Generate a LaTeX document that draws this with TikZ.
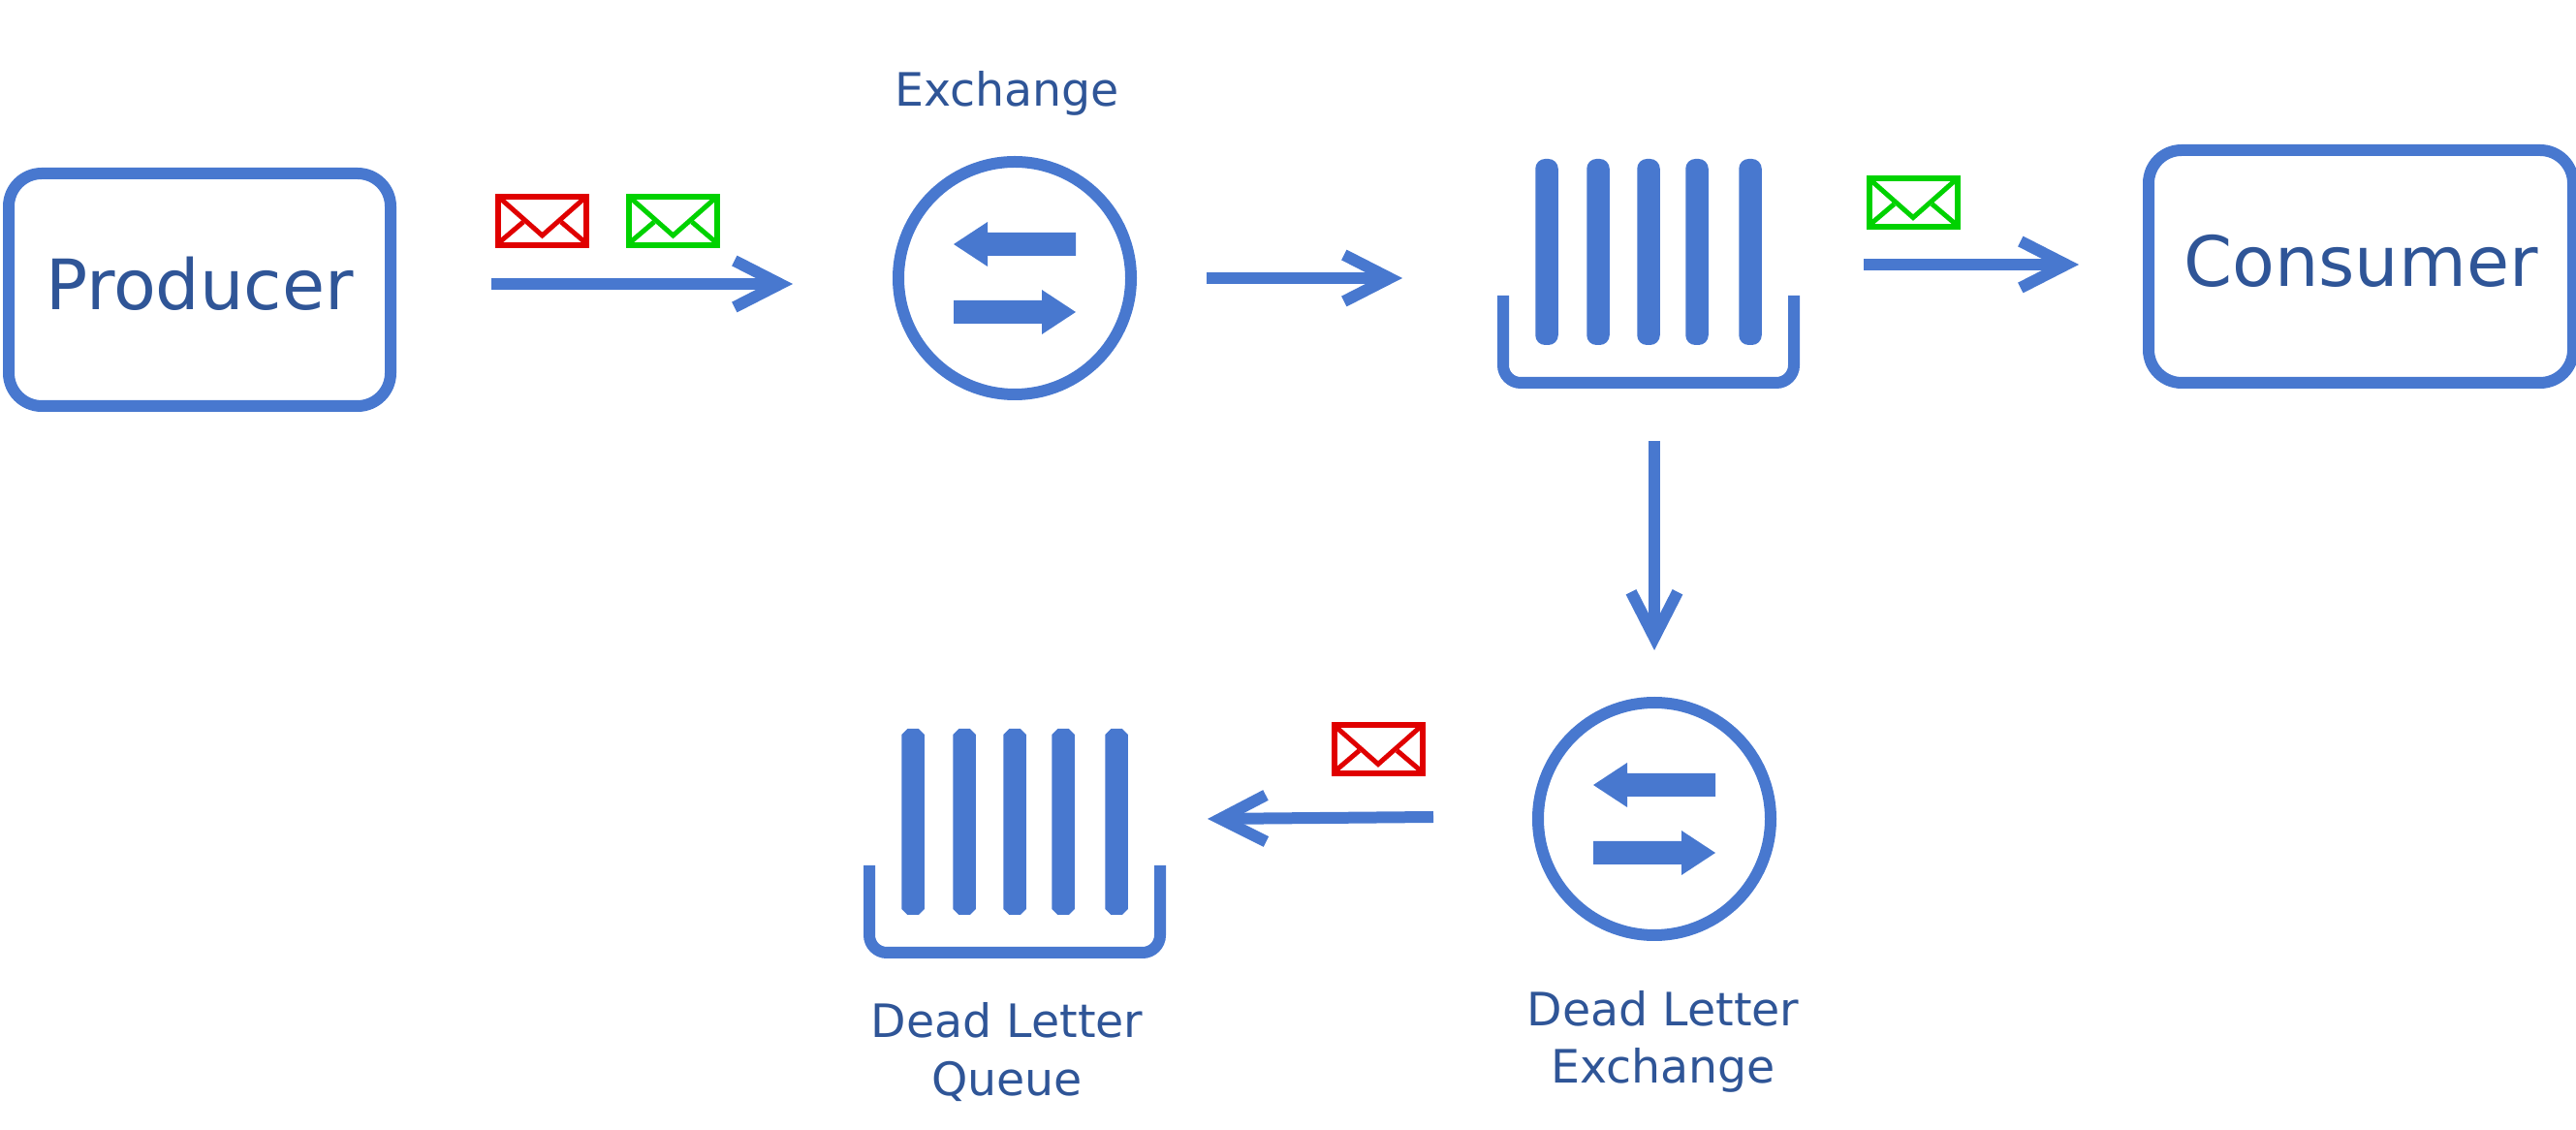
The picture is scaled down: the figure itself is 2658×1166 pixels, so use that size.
\documentclass[tikz,border=0pt]{standalone}
\usepackage{fontspec}
\setmainfont{DejaVu Sans}
\usetikzlibrary{arrows.meta}
\definecolor{iconblue}{HTML}{4878CF}
\definecolor{textblue}{HTML}{2F5597}
\definecolor{mailred}{HTML}{E00000}
\definecolor{mailgreen}{HTML}{00D200}
\newcommand{\softbar}[1]{\fill[iconblue, rounded corners=1mm] (#1-11.75,-141) rectangle (#1+11.75,51);}
\newcommand{\cutbar}[1]{\fill[iconblue] (#1-5.75,-141) -- (#1+5.75,-141) -- (#1+11.75,-135) -- (#1+11.75,45) -- (#1+5.75,51) -- (#1-5.75,51) -- (#1-11.75,45) -- (#1-11.75,-135) -- cycle;}
\tikzset{
  party/.style={draw=iconblue, line width=1.2mm, rounded corners=3.4mm, inner sep=0pt, minimum height=24mm, text=textblue, text height=6mm, text depth=1.8mm, font=\fontsize{20.4pt}{24pt}\selectfont},
  caption/.style={text=textblue, align=center, anchor=base, inner sep=0pt, font=\fontsize{13.5pt}{17pt}\selectfont},
  exchring/.style={draw=iconblue, line width=1.2mm, circle, inner sep=0pt, minimum size=24mm},
  flow/.style={draw=iconblue, line width=1.2mm, -{Straight Barb[length=4.7mm,width=4.8mm]}},
  pics/exchicon/.style={code={
    \fill[iconblue] (-63,-35) -- (-28,-58) -- (-28,-47) -- (63,-47) -- (63,-23) -- (-28,-23) -- (-28,-12) -- cycle;
    \fill[iconblue] (63,35) -- (28,12) -- (28,23) -- (-63,23) -- (-63,47) -- (28,47) -- (28,58) -- cycle;
  }},
  pics/queueicon/.style={code={
    \draw[iconblue, line width=1.2mm, rounded corners=1.8mm] (-150,0) -- (-150,90) -- (150,90) -- (150,0);
    \foreach \bx in {-105,-52,0,50,105}
      {#1{\bx}}
  }},
  pics/envelope/.style={code={
    \draw[#1, line width=0.6mm, fill=white] (-45.5,-25) rectangle (45.5,25);
    \draw[#1, line width=0.5mm] (-43,-23) -- (0,15) -- (43,-23);
    \draw[#1, line width=0.5mm] (-43,21) -- (-19.5,1);
    \draw[#1, line width=0.5mm] (43,21) -- (19.5,1);
  }},
}
\begin{document}
\begin{tikzpicture}[x=0.1mm, y=-0.1mm]
  \useasboundingbox (0,0) rectangle (2658,1166);
  \node[party, minimum width=39.4mm] (Producer) at (206,299) {Producer};
  \node[party, minimum width=43.8mm] (Consumer) at (2436,275) {Consumer};
  \node[exchring] (Exch) at (1047,287) {};
  \node[exchring] (Dlx) at (1707,845) {};
  \pic (ExchIcon) at (1047,287) {exchicon};
  \pic (DlxIcon) at (1707,845) {exchicon};
  \pic (Queue) at (1701,305) {queueicon=\softbar};
  \pic (Dlq) at (1047,893) {queueicon=\cutbar};
  \node[caption] (ExchName) at (1039,110) {Exchange};
  \node[caption] (DlqName) at (1039,1130) {Dead Letter\\Queue};
  \node[caption] (DlxName) at (1716,1118) {Dead Letter\\Exchange};
  \pic (MailA) at (559.5,228) {envelope=mailred};
  \pic (MailB) at (694.5,228) {envelope=mailgreen};
  \pic (MailC) at (1974,209.5) {envelope=mailgreen};
  \pic (MailD) at (1422,773.5) {envelope=mailred};
  \coordinate (ProducerOut) at (507,293);
  \coordinate (ExchIn) at (818,293);
  \coordinate (ExchOut) at (1245,287);
  \coordinate (QueueIn) at (1447,287);
  \coordinate (QueueOut) at (1923,273);
  \coordinate (ConsumerIn) at (2145,273);
  \coordinate (QueueDown) at (1707,455);
  \coordinate (DlxIn) at (1707,671);
  \coordinate (DlxOut) at (1479,843);
  \coordinate (DlqIn) at (1246,845);
  \draw[flow] (ProducerOut) -- (ExchIn);
  \draw[flow] (ExchOut) -- (QueueIn);
  \draw[flow] (QueueOut) -- (ConsumerIn);
  \draw[flow] (QueueDown) -- (DlxIn);
  \draw[flow] (DlxOut) -- (DlqIn);
\end{tikzpicture}
\end{document}
